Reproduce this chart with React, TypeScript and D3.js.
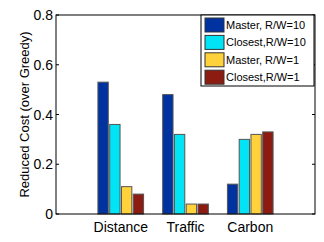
import React, { useEffect, useRef } from "react";
import * as d3 from "d3";

const categories = ["Distance", "Traffic", "Carbon"];
const seriesNames = ["Master, R/W=10", "Closest,R/W=10", "Master, R/W=1", "Closest,R/W=1"];
const seriesColors = ["#0033a0", "#00e4f6", "#ffd23c", "#8c1c12"];
// values[series][category]
const masterRW10 = [0.53, 0.48, 0.12];
const closestRW10 = [0.36, 0.32, 0.3];
const masterRW1 = [0.11, 0.04, 0.32];
const closestRW1 = [0.08, 0.04, 0.33];
const yTicks = [0, 0.2, 0.4, 0.6, 0.8];

export default function App() {
  const svgRef = useRef<SVGSVGElement>(null);

  useEffect(() => {
    const svg = d3.select(svgRef.current);
    svg.selectAll("*").remove();

    const series = [masterRW10, closestRW10, masterRW1, closestRW1];
    const font = "Liberation Sans, Arial, sans-serif";

    const x = d3.scaleLinear().domain([0, 4]).range([56, 315]);
    const y = d3.scaleLinear().domain([0, 0.8]).range([214, 15]);
    const slot = (x(1) - x(0)) * 0.727;
    const inner = d3.scaleBand<number>()
      .domain(d3.range(series.length))
      .range([-slot / 2, slot / 2])
      .paddingInner(0.12)
      .paddingOuter(0.06);

    // bars
    series.forEach((vals, si) => {
      svg.append("g")
        .selectAll("rect")
        .data(vals)
        .join("rect")
        .attr("x", (_, ci) => x(ci + 1) + inner(si)!)
        .attr("y", (d) => y(d))
        .attr("width", inner.bandwidth())
        .attr("height", (d) => y(0) - y(d))
        .attr("fill", seriesColors[si])
        .attr("stroke", "#555")
        .attr("stroke-width", 1);
    });

    // axes box
    const [x0, x1] = x.range();
    const [y0, y1] = y.range();
    svg.append("rect")
      .attr("x", x0).attr("y", y1)
      .attr("width", x1 - x0).attr("height", y0 - y1)
      .attr("fill", "none").attr("stroke", "#000").attr("stroke-width", 1);

    // y ticks (left and right, inward)
    yTicks.forEach((t) => {
      svg.append("line")
        .attr("x1", x0).attr("x2", x0 + 3)
        .attr("y1", y(t)).attr("y2", y(t))
        .attr("stroke", "#000");
      svg.append("line")
        .attr("x1", x1).attr("x2", x1 - 3)
        .attr("y1", y(t)).attr("y2", y(t))
        .attr("stroke", "#000");
      svg.append("text")
        .attr("x", x0 - 3)
        .attr("y", y(t))
        .attr("dy", "0.36em")
        .attr("text-anchor", "end")
        .attr("font-family", font)
        .attr("font-size", 14)
        .text(t === 0 ? "0" : String(t));
    });

    // category labels
    categories.forEach((c, i) => {
      svg.append("text")
        .attr("x", x(i + 1))
        .attr("y", 232)
        .attr("text-anchor", "middle")
        .attr("font-family", font)
        .attr("font-size", 14)
        .text(c);
    });

    // y label
    svg.append("text")
      .attr("transform", `translate(29,${(y0 + y1) / 2}) rotate(-90)`)
      .attr("text-anchor", "middle")
      .attr("font-family", font)
      .attr("font-size", 13)
      .text("Reduced Cost (over Greedy)");

    // legend
    const lg = svg.append("g").attr("transform", "translate(201,15)");
    lg.append("rect")
      .attr("width", 113).attr("height", 71)
      .attr("fill", "#fff").attr("stroke", "#000");
    seriesNames.forEach((name, i) => {
      const cy = 10 + i * 17.4;
      lg.append("rect")
        .attr("x", 4).attr("y", cy - 7)
        .attr("width", 19).attr("height", 14)
        .attr("fill", seriesColors[i])
        .attr("stroke", "#333");
      lg.append("text")
        .attr("x", 25).attr("y", cy)
        .attr("dy", "0.36em")
        .attr("font-family", font)
        .attr("font-size", 11)
        .text(name);
    });
  }, []);

  return (
    <div style={{ position: "absolute", left: 0, top: 0 }}>
      <svg ref={svgRef} width={324} height={242} style={{ background: "white", display: "block" }} />
    </div>
  );
}
